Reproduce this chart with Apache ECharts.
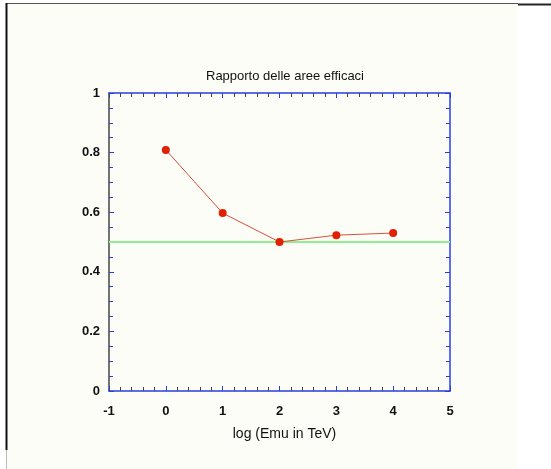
<!DOCTYPE html>
<html>
<head>
<meta charset="utf-8">
<script src="https://cdn.jsdelivr.net/npm/echarts@6/dist/echarts.min.js"></script>
<style>
  html, body { margin: 0; padding: 0; background: #ffffff; }
  #chart { width: 551px; height: 469px; }
</style>
</head>
<body>
<div id="chart"></div>
<script>
// log10 of muon energy (TeV) and the effective-area ratio at each point
const logEnergy = [0, 1, 2, 3, 4];
const areaRatio = [0.809, 0.597, 0.500, 0.523, 0.530];
// horizontal reference level
const refLevel = 0.5;
const xRange = [-1, 5];

const blue = '#2a3ee0';
const font = '"Liberation Sans", Arial, sans-serif';

const chart = echarts.init(document.getElementById('chart'));

const tickAxisBase = {
  type: 'value',
  axisTick: { show: true, inside: true, length: 5, lineStyle: { color: blue, width: 1 } },
  minorTick: { show: true, splitNumber: 5, length: 4, lineStyle: { color: '#444', width: 1 } },
  splitLine: { show: false },
  minorSplitLine: { show: false }
};

chart.setOption({
  backgroundColor: '#ffffff',
  animation: false,
  graphic: [
    { type: 'rect', shape: { x: 6, y: 3, width: 512, height: 466 }, style: { fill: '#fdfdf8' }, z: -10 },
    { type: 'line', shape: { x1: 6, y1: 3.5, x2: 518, y2: 3.5 }, style: { stroke: '#555', lineWidth: 1 } },
    { type: 'line', shape: { x1: 518, y1: 4.5, x2: 551, y2: 4.5 }, style: { stroke: '#222', lineWidth: 2 } },
    { type: 'line', shape: { x1: 6.5, y1: 3, x2: 6.5, y2: 450 }, style: { stroke: '#111', lineWidth: 2 } },
    { type: 'line', shape: { x1: 6.5, y1: 450, x2: 6.5, y2: 469 }, style: { stroke: '#bbb', lineWidth: 1 } }
  ],
  title: {
    text: 'Rapporto delle aree efficaci',
    left: 280, top: 65, textAlign: 'center',
    textStyle: { fontFamily: font, fontSize: 13, fontWeight: 'normal', color: '#111' }
  },
  grid: { left: 109, right: 101, top: 93, bottom: 78 },
  xAxis: [
    Object.assign({}, tickAxisBase, {
      position: 'bottom', min: xRange[0], max: xRange[1], interval: 1,
      name: 'log (Emu in TeV)', nameLocation: 'middle', nameGap: 36,
      nameTextStyle: { fontFamily: font, fontSize: 14, color: '#111', padding: [0, 0, 0, 10] },
      axisLine: { onZero: false, lineStyle: { color: blue, width: 1.5 } },
      axisLabel: { fontFamily: font, fontSize: 13, fontWeight: 'bold', color: '#111', margin: 14 }
    }),
    Object.assign({}, tickAxisBase, {
      position: 'top', min: xRange[0], max: xRange[1], interval: 1,
      axisLine: { onZero: false, lineStyle: { color: blue, width: 1.5 } },
      axisLabel: { show: false }
    })
  ],
  yAxis: [
    Object.assign({}, tickAxisBase, {
      position: 'left', min: 0, max: 1, interval: 0.2,
      minorTick: { show: true, splitNumber: 4, length: 4, lineStyle: { color: blue, width: 1 } },
      axisLine: { onZero: false, lineStyle: { color: '#444', width: 1.5 } },
      axisLabel: { fontFamily: font, fontSize: 13, fontWeight: 'bold', color: '#111', margin: 9,
                   formatter: v => String(Math.round(v * 10) / 10) }
    }),
    Object.assign({}, tickAxisBase, {
      position: 'right', min: 0, max: 1, interval: 0.2,
      minorTick: { show: true, splitNumber: 4, length: 4, lineStyle: { color: blue, width: 1 } },
      axisLine: { onZero: false, lineStyle: { color: blue, width: 1.5 } },
      axisLabel: { show: false }
    })
  ],
  series: [
    {
      type: 'line',
      data: [[xRange[0], refLevel], [xRange[1], refLevel]],
      symbol: 'none',
      lineStyle: { color: '#8ff08f', width: 2 },
      z: 1
    },
    {
      type: 'line',
      data: logEnergy.map((x, i) => [x, areaRatio[i]]),
      symbol: 'circle', symbolSize: 8,
      itemStyle: { color: '#e02000' },
      lineStyle: { color: '#d8503a', width: 1 },
      z: 2
    }
  ]
});
</script>
</body>
</html>
